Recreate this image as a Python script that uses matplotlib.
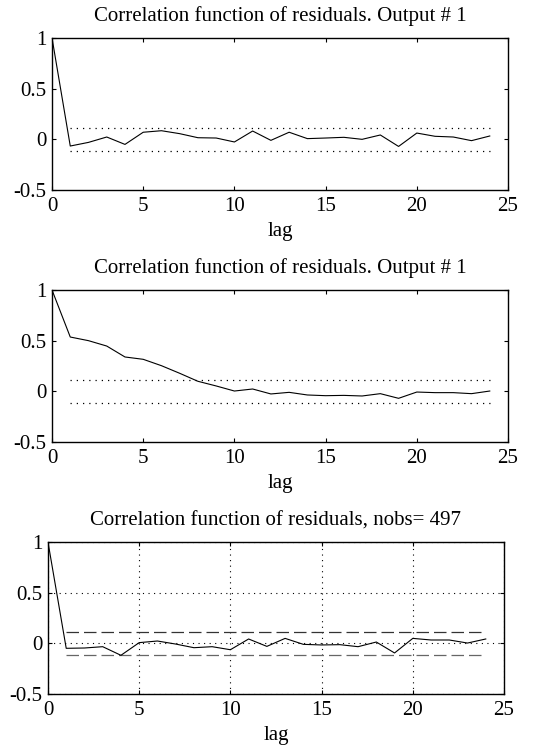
import numpy as np
import matplotlib
matplotlib.use('Agg')
import matplotlib.pyplot as plt

plt.rcParams['font.family'] = ['Liberation Serif', 'DejaVu Serif']

lags = list(range(25))

# residual autocorrelation, first panel
corr_1 = [1.0, -0.066, -0.03, 0.023, -0.05, 0.07, 0.085, 0.056, 0.016, 0.013,
          -0.026, 0.082, -0.01, 0.07, 0.007, 0.013, 0.02, 0.0, 0.043, -0.07,
          0.062, 0.03, 0.023, -0.013, 0.033]

# residual autocorrelation, second panel
corr_2 = [1.0, 0.536, 0.50, 0.447, 0.339, 0.316, 0.253, 0.178, 0.099, 0.053,
          0.003, 0.023, -0.026, -0.01, -0.036, -0.043, -0.04, -0.046, -0.023,
          -0.069, -0.007, -0.013, -0.013, -0.023, 0.003]

# residual autocorrelation, third panel
corr_3 = [1.0, -0.049, -0.046, -0.033, -0.118, 0.007, 0.023, -0.007, -0.043,
          -0.033, -0.063, 0.043, -0.03, 0.049, -0.01, -0.016, -0.013, -0.033,
          0.013, -0.095, 0.049, 0.033, 0.033, 0.003, 0.043]

conf_band = 0.116
band_lags = [1, 24]

titles = ["Correlation function of residuals. Output # 1",
          "Correlation function of residuals. Output # 1",
          "Correlation function of residuals, nobs= 497"]

fig = plt.figure(figsize=(5.33, 7.49), dpi=100, facecolor='white')

rects = [[0.0976, 0.7463, 0.8555, 0.2030],
         [0.0976, 0.4099, 0.8555, 0.2029],
         [0.0900, 0.0734, 0.8556, 0.2030]]


def format_axes(ax):
    ax.set_xlim(0, 25)
    ax.set_ylim(-0.5, 1)
    ax.set_xticks([0, 5, 10, 15, 20, 25])
    ax.set_yticks([-0.5, 0, 0.5, 1])
    ax.set_yticklabels(['-0.5', '0', '0.5', '1'])
    ax.tick_params(direction='in', length=3, width=0.8, top=True, right=True,
                   labelsize=15)
    ax.tick_params(axis='x', pad=5)
    ax.tick_params(axis='y', pad=4)
    for spine in ax.spines.values():
        spine.set_linewidth(1.0)
    ax.set_xlabel('lag', fontsize=15, labelpad=4.5)
    ax.set_facecolor('white')


series = [corr_1, corr_2, corr_3]
for i, (rect, data, title) in enumerate(zip(rects, series, titles)):
    ax = fig.add_axes(rect)
    if i < 2:
        ax.plot(band_lags, [conf_band, conf_band], color='black', ls=(0, (1, 4)), lw=0.9)
        ax.plot(band_lags, [-conf_band, -conf_band], color='black', ls=(0, (1, 4)), lw=0.9)
    else:
        ax.grid(True, color='black', ls=(0, (1, 4)), lw=0.8)
        ax.plot(band_lags, [conf_band, conf_band], color='#333333', ls=(0, (10, 4)), lw=0.9)
        ax.plot(band_lags, [-conf_band, -conf_band], color='#666666', ls=(0, (10, 4)), lw=0.9)
    ax.plot(lags, data, color='black', lw=0.8)
    ax.set_title(title, fontsize=15, pad=12)
    format_axes(ax)

fig.savefig('out.png', dpi=100, facecolor='white')
